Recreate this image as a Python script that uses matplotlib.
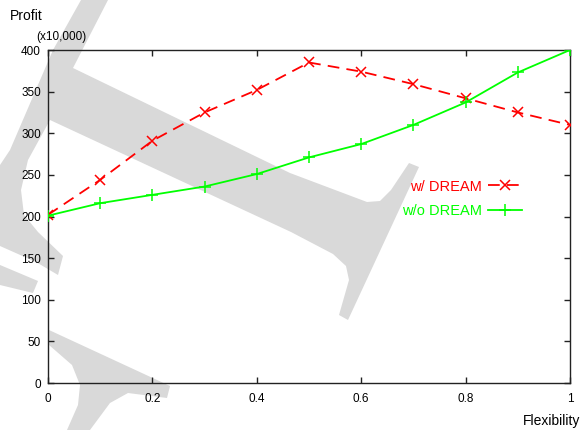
import matplotlib
matplotlib.use('Agg')
import matplotlib.pyplot as plt
from matplotlib.patches import Polygon

plt.rcParams['font.family'] = ['Liberation Sans', 'DejaVu Sans']

# flexibility levels on the x axis
flexibility = [0.0, 0.1, 0.2, 0.3, 0.4, 0.5, 0.6, 0.7, 0.8, 0.9, 1.0]
# profit in units of 10,000
profit_dream = [202, 244, 291, 325, 352, 385, 374, 359, 342, 325, 310]
profit_no_dream = [201, 216, 226, 236, 251, 271, 287, 310, 337, 373, 400]

x_ticks = [0, 0.2, 0.4, 0.6, 0.8, 1]
x_tick_labels = ['0', '0.2', '0.4', '0.6', '0.8', '1']
y_ticks = [0, 50, 100, 150, 200, 250, 300, 350, 400]

W, H = 582, 430
fig = plt.figure(figsize=(W / 100, H / 100), dpi=100)


def px(pts):
    # pixel coords (origin top-left) -> figure fraction
    return [(x / W, 1 - y / H) for x, y in pts]


# light grey background strokes
strokes = [
    [(81, 0), (108, 0), (73, 68), (290, 173), (367, 202), (380, 201), (391, 190),
     (409, 163), (419, 167), (348, 320), (339, 315), (349, 280), (346, 266),
     (333, 254), (291, 232), (50, 120), (28, 160), (21, 190), (24, 215),
     (38, 232), (63, 256), (58, 275), (36, 262), (0, 246), (0, 165),
     (10, 150), (53, 50)],
    [(0, 265), (38, 281), (33, 293), (0, 285)],
    [(49, 330), (170, 386), (167, 398), (128, 393), (110, 403), (90, 430),
     (67, 430), (78, 405), (80, 385), (72, 365), (49, 345)],
]
for s in strokes:
    fig.patches.append(Polygon(px(s), closed=True, transform=fig.transFigure,
                               facecolor='#d9d9d9', edgecolor='none', zorder=-5))

ax = fig.add_axes([48 / W, 1 - 383 / H, 522 / W, 333 / H])
ax.set_facecolor('none')

ax.plot(flexibility, profit_dream, color='#ff0000', lw=1.3, dashes=(6.5, 4),
        marker='x', markersize=7, markeredgewidth=1.1, label='w/ DREAM', zorder=3)
ax.plot(flexibility, profit_no_dream, color='#00ff00', lw=1.3,
        marker='+', markersize=8, markeredgewidth=1.1, label='w/o DREAM', zorder=3)

ax.set_xlim(0, 1)
ax.set_ylim(0, 400)
ax.set_xticks(x_ticks)
ax.set_xticklabels(x_tick_labels)
ax.set_yticks(y_ticks)
ax.tick_params(axis='x', pad=7)
ax.tick_params(direction='in', length=4, width=1, top=True, right=True,
               labelsize=8.5, color='#222222')
ax.tick_params(axis='y', pad=5)
for sp in ax.spines.values():
    sp.set_linewidth(1)
    sp.set_color('#222222')

leg = ax.legend(loc='center right', bbox_to_anchor=(0.908, 0.553),
                frameon=False, markerfirst=False, labelcolor='linecolor',
                fontsize=10.5, handlelength=2.3, handletextpad=0.45,
                labelspacing=0.72, borderpad=0, borderaxespad=0)

fig.text(10 / W, 1 - 16 / H, 'Profit', fontsize=10, va='center', ha='left')
fig.text(36 / W, 1 - 37 / H, '(x10,000)', fontsize=8.5, va='center', ha='left')
fig.text(580 / W, 1 - 421 / H, 'Flexibility', fontsize=10, va='center', ha='right')

fig.savefig('out.png', dpi=100)
